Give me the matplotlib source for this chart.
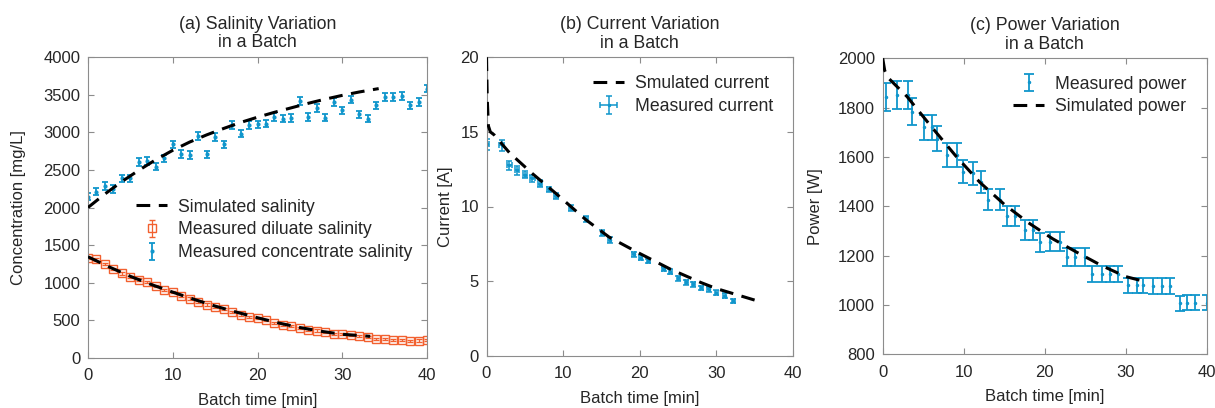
import matplotlib
matplotlib.use("Agg")
import matplotlib.pyplot as plt
import numpy as np

plt.rcParams['font.family'] = ['Liberation Sans', 'DejaVu Sans']

# ---------------- data ----------------
# (a) salinity
t_meas_a = list(range(0, 41))
conc_meas = [2146, 2212, 2287, 2243, 2388, 2388, 2608, 2617, 2542, 2653,
             2838, 2710, 2697, 2948, 2705, 2940, 2838, 3094, 2983, 3094,
             3103, 3116, 3204, 3182, 3191, 3416, 3204, 3323, 3195, 3402,
             3292, 3433, 3239, 3182, 3358, 3469, 3469, 3482, 3358, 3402, 3579]
conc_err = 50
dil_meas = [1331, 1309, 1251, 1185, 1123, 1078, 1043, 1007, 954, 901,
            879, 821, 790, 745, 710, 679, 652, 608, 577, 546,
            532, 501, 466, 435, 421, 399, 377, 364, 346, 319,
            315, 302, 288, 280, 257, 253, 244, 240, 222, 231, 235]
dil_err = 15
t_sim_conc = [0, 2, 4, 6, 8, 10, 12, 14, 16, 18, 20, 22, 24, 26, 28, 30, 32, 34.3]
conc_sim = [2000, 2180, 2345, 2495, 2635, 2760, 2870, 2965, 3050, 3130,
            3200, 3265, 3325, 3385, 3440, 3490, 3535, 3580]
t_sim_dil = [0, 2.5, 5, 7.5, 10, 12.5, 15, 17.5, 20, 22.5, 25, 27.5, 30, 33.3]
dil_sim = [1345, 1210, 1085, 975, 875, 780, 690, 610, 535, 465, 405, 355, 315, 288]

# (b) current
t_meas_b = [0, 1.97, 2.97, 4.0, 5.0, 6.0, 7.0, 8.1, 9.1, 11.0, 13.0, 15.1, 16.1,
            19.2, 20.1, 21.1, 23.1, 24.0, 25.0, 26.1, 27.0, 28.0, 29.0, 30.0, 31.1, 32.2]
cur_meas = [14.17, 14.1, 12.77, 12.43, 12.14, 11.88, 11.54, 11.14, 10.71, 9.91,
            9.13, 8.24, 7.75, 6.79, 6.58, 6.34, 5.80, 5.63, 5.18, 4.91,
            4.78, 4.55, 4.44, 4.22, 4.02, 3.68]
cur_xerr = [0.3, 0.35, 0.3, 0.3, 0.3, 0.3, 0.25, 0.25, 0.25, 0.2, 0.2, 0.2, 0.2,
            0.2, 0.2, 0.2, 0.2, 0.2, 0.2, 0.2, 0.2, 0.2, 0.2, 0.2, 0.2, 0.2]
cur_yerr = [0.35, 0.35, 0.3, 0.3, 0.25, 0.25, 0.25, 0.2, 0.2, 0.2, 0.2, 0.2, 0.2,
            0.15, 0.15, 0.15, 0.15, 0.15, 0.15, 0.15, 0.15, 0.15, 0.15, 0.15, 0.15, 0.15]
t_sim_b = [0, 0.1, 0.25, 0.5, 1, 3, 6, 9, 13, 16, 20, 24, 28, 30, 35.3]
cur_sim = [20, 17.2, 15.4, 15.0, 14.8, 13.6, 12.2, 10.9, 9.1, 7.95, 6.85, 5.8, 4.9, 4.5, 3.68]

# (c) power
t_meas_c = [0.41, 1.73, 3.09, 3.66, 5.14, 6.05, 6.75, 7.98, 9.14, 9.96, 11.19, 12.14,
            13.05, 14.49, 15.31, 16.34, 17.57, 18.6, 19.42, 20.66, 21.89, 22.72,
            23.74, 24.98, 25.8, 27.04, 28.07, 29.09, 30.33, 31.36, 32.18, 33.42,
            34.44, 35.47, 36.7, 37.53, 38.56, 40.0]
pow_meas = [1842, 1851, 1851, 1784, 1720, 1720, 1674, 1608, 1608, 1540, 1534, 1497,
            1426, 1426, 1361, 1361, 1304, 1304, 1254, 1257, 1257, 1195,
            1193, 1193, 1126, 1126, 1126, 1126, 1079, 1079, 1079, 1077,
            1077, 1077, 1007, 1010, 1010, 1010]
pow_err = [56, 56, 56, 54, 52, 52, 50, 48, 48, 46, 46, 45,
           43, 43, 41, 41, 39, 39, 38, 38, 38, 36,
           36, 36, 34, 34, 34, 34, 32, 32, 32, 32,
           32, 32, 30, 30, 30, 30]
t_sim_c = [0, 0.25, 0.7, 3, 6, 9, 12, 15, 18, 21, 24, 27, 30, 32.6]
pow_sim = [2000, 1950, 1920, 1845, 1723, 1605, 1497, 1408, 1333, 1268, 1213, 1160, 1115, 1093]

titles = ["(a) Salinity Variation\nin a Batch",
          "(b) Current Variation\nin a Batch",
          "(c) Power Variation\nin a Batch"]
ylabels = ["Concentration [mg/L]", "Current [A]", "Power [W]"]
xlabel = "Batch time [min]"
xticks = [0, 10, 20, 30, 40]

BLUE = '#1096cc'
ORANGE = '#f2602f'
SPINE = '#8c8c8c'
TXT = '#262626'
FS_TICK = 12
FS_LAB = 12
FS_LEG = 12.7
FS_TIT = 12.8

W, H = 1215, 408
fig = plt.figure(figsize=(W / 100, H / 100), dpi=100)


def add_ax(l, r, t, b):
    return fig.add_axes([l / W, (H - b) / H, (r - l) / W, (b - t) / H])


axes = [add_ax(88, 427, 57, 358), add_ax(486.5, 793, 57.3, 355.7), add_ax(882.7, 1206.7, 58.3, 354.3)]

for ax, title, yl in zip(axes, titles, ylabels):
    ax.set_title(title, fontsize=FS_TIT, color=TXT, pad=7, linespacing=1.13)
    ax.set_ylabel(yl, fontsize=FS_LAB, color=TXT)
    ax.set_xlabel(xlabel, fontsize=FS_LAB, color=TXT, labelpad=7)
    ax.set_xlim(0, 40)
    ax.set_xticks(xticks)
    for s in ax.spines.values():
        s.set_color(SPINE)
        s.set_linewidth(0.8)
    ax.tick_params(direction='in', top=True, right=True, length=4, width=0.8,
                   color=SPINE, labelsize=FS_TICK, labelcolor=TXT)
    ax.tick_params(axis='x', pad=7.5)
    ax.tick_params(axis='y', pad=5.5)

dash = dict(color='black', lw=2.2, dashes=(4.5, 2.8))
leg_kw = dict(loc='center left', frameon=False, fontsize=FS_LEG, borderpad=0,
              borderaxespad=0, handlelength=1.77, handletextpad=0.63, labelspacing=0.34)

# (a)
ax = axes[0]
ax.set_ylim(0, 4000)
ax.set_yticks(range(0, 4001, 500))
l_sim, = ax.plot(t_sim_conc, conc_sim, **dash, label='Simulated salinity', zorder=3)
ax.plot(t_sim_dil, dil_sim, **dash, zorder=3)
h_dil = ax.errorbar(t_meas_a, dil_meas, yerr=dil_err, fmt='s', ms=6, mfc='none', mec=ORANGE,
                    mew=1.0, ecolor=ORANGE, elinewidth=0.9, capsize=2, capthick=0.9,
                    label='Measured diluate salinity', zorder=2)
h_conc = ax.errorbar(t_meas_a, conc_meas, yerr=conc_err, fmt='.', ms=4, color=BLUE,
                     ecolor=BLUE, elinewidth=1.3, capsize=2.4, capthick=1.3,
                     label='Measured concentrate salinity', zorder=2)
ax.yaxis.set_label_coords(-0.182, 0.5)
leg = ax.legend(handles=[l_sim, h_dil, h_conc],
                bbox_to_anchor=((136 - 88) / 339, (358 - 230) / 301), **leg_kw)
for txt in leg.get_texts():
    txt.set_color(TXT)

# (b)
ax = axes[1]
ax.set_ylim(0, 20)
ax.set_yticks([0, 5, 10, 15, 20])
l_simb, = ax.plot(t_sim_b, cur_sim, **dash, label='Smulated current', zorder=3)
h_cur = ax.errorbar(t_meas_b, cur_meas, xerr=cur_xerr, yerr=cur_yerr, fmt='.', ms=3,
                    color=BLUE, ecolor=BLUE, elinewidth=1.1, capsize=2.2, capthick=1.1,
                    label='Measured current', zorder=2)
ax.yaxis.set_label_coords(-0.109, 0.5)
leg = ax.legend(handles=[l_simb, h_cur],
                bbox_to_anchor=((593 - 486.5) / 306.5, (355.7 - 95.3) / 298.4), **leg_kw)
for txt in leg.get_texts():
    txt.set_color(TXT)

# (c)
ax = axes[2]
ax.set_ylim(800, 2000)
ax.set_yticks(range(800, 2001, 200))
h_pow = ax.errorbar(t_meas_c, pow_meas, yerr=pow_err, fmt='.', ms=3, color=BLUE,
                    ecolor=BLUE, elinewidth=1.3, capsize=3.4, capthick=1.3,
                    label='Measured power', zorder=2)
l_simc, = ax.plot(t_sim_c, pow_sim, **dash, label='Simulated power', zorder=3)
ax.yaxis.set_label_coords(-0.184, 0.5)
leg = ax.legend(handles=[h_pow, l_simc],
                bbox_to_anchor=((1013 - 882.7) / 324, (354.3 - 95.5) / 296), **leg_kw)
for txt in leg.get_texts():
    txt.set_color(TXT)

fig.savefig('out.png', dpi=100)
